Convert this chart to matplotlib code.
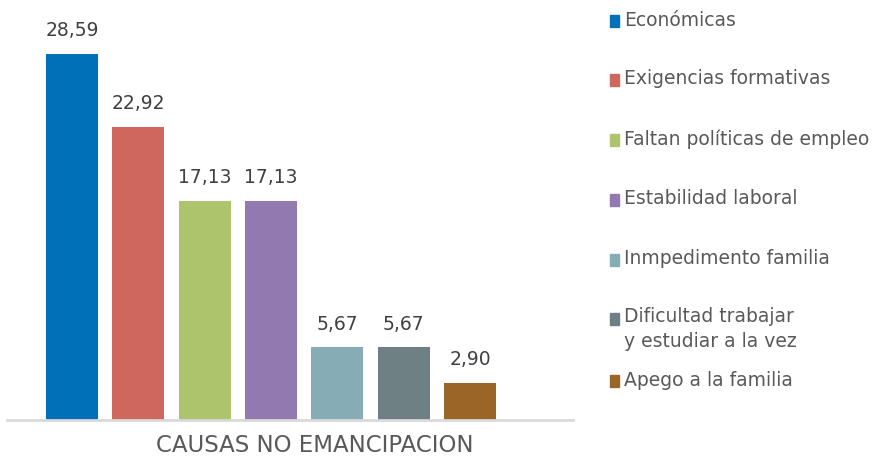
import matplotlib.pyplot as plt
from matplotlib.patches import Rectangle

plt.rcParams['font.family'] = ['DejaVu Sans']

causas = ['Económicas', 'Exigencias formativas', 'Faltan políticas de empleo',
          'Estabilidad laboral', 'Inmpedimento familia',
          'Dificultad trabajar\ny estudiar a la vez', 'Apego a la familia']
valores = [28.59, 22.92, 17.13, 17.13, 5.67, 5.67, 2.90]
colores = ['#0070B8', '#D0675F', '#ADC46C', '#9279B0', '#86ADB5', '#6E8083', '#9A6628']

W, H = 887, 458
fig = plt.figure(figsize=(W / 100, H / 100), dpi=100)
ax = fig.add_axes([7 / W, 38 / H, (573 - 7) / W, 420 / H])

x = list(range(len(valores)))
ax.bar(x, valores, width=0.785, color=colores)
for xi, v in zip(x, valores):
    ax.text(xi, v + 1.8, '{:.2f}'.format(v).replace('.', ','), ha='center', va='center',
            fontsize=13.5, color='#404040')

ax.set_xlim(-0.98, 7.553)
ax.set_ylim(0, 32.8)
for s in ['top', 'right', 'left']:
    ax.spines[s].set_visible(False)
ax.spines['bottom'].set_color('#D9D9D9')
ax.spines['bottom'].set_linewidth(2)
ax.set_xticks([])
ax.set_yticks([])

fig.text(315 / W, 1 - 446 / H, 'CAUSAS NO EMANCIPACION', ha='center', va='center',
         fontsize=16.5, color='#595959')

# leyenda manual
ys = [20, 79, 139, 199, 259, 318, 380]
for lab, c, y in zip(causas, colores, ys):
    fig.patches.append(Rectangle((610 / W, 1 - (y + 7) / H), 9 / W, 12 / H,
                                 transform=fig.transFigure, color=c))
    if '\n' in lab:
        fig.text(624 / W, 1 - (y - 11) / H, lab, ha='left', va='top',
                 fontsize=13.5, color='#595959', linespacing=1.4)
    else:
        fig.text(624 / W, 1 - y / H, lab, ha='left', va='center',
                 fontsize=13.5, color='#595959')

fig.savefig('out.png', dpi=100)
